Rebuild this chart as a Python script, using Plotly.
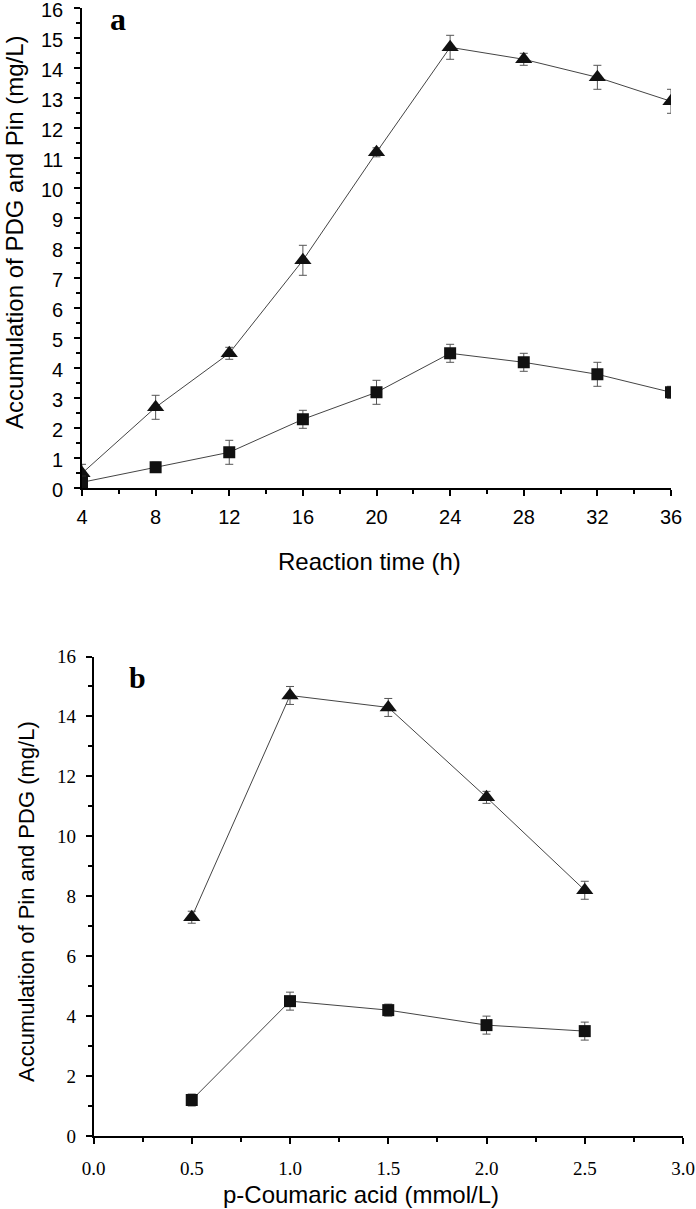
import plotly.graph_objects as go

W, H = 696, 1209

# Panel a data
time_h = [4, 8, 12, 16, 20, 24, 28, 32, 36]
tri_a = [0.5, 2.7, 4.5, 7.6, 11.2, 14.7, 14.3, 13.7, 12.9]
tri_a_err = [0.3, 0.4, 0.2, 0.5, 0.15, 0.4, 0.2, 0.4, 0.4]
sq_a = [0.2, 0.7, 1.2, 2.3, 3.2, 4.5, 4.2, 3.8, 3.2]
sq_a_err = [0.2, 0.17, 0.4, 0.3, 0.4, 0.3, 0.3, 0.4, 0.2]

# Panel b data
pca = [0.5, 1.0, 1.5, 2.0, 2.5]
tri_b = [7.3, 14.7, 14.3, 11.3, 8.2]
tri_b_err = [0.2, 0.3, 0.3, 0.2, 0.3]
sq_b = [1.2, 4.5, 4.2, 3.7, 3.5]
sq_b_err = [0.2, 0.3, 0.2, 0.3, 0.3]

LINE = "#444444"
MK = "#111111"
ERR = "#555555"


def px_x(p):
    return p / W


def px_y(p):
    return 1 - p / H


def series(x, y, e, sym, size, xa, ya):
    return go.Scatter(
        x=x, y=y, mode="lines+markers", xaxis=xa, yaxis=ya,
        line=dict(color=LINE, width=1),
        marker=dict(symbol=sym, size=size, color=MK),
        error_y=dict(type="data", array=e, visible=True, color=ERR,
                     thickness=1, width=4),
        showlegend=False, cliponaxis=True,
    )


fig = go.Figure()
fig.add_trace(series(time_h, tri_a, tri_a_err, "triangle-up", 15, "x", "y"))
fig.add_trace(series(time_h, sq_a, sq_a_err, "square", 12, "x", "y"))
fig.add_trace(series(pca, tri_b, tri_b_err, "triangle-up", 15, "x2", "y2"))
fig.add_trace(series(pca, sq_b, sq_b_err, "square", 12, "x2", "y2"))

sans = "Liberation Sans, Arial, sans-serif"
serif = "Liberation Serif, Times New Roman, serif"

common = dict(showline=True, linecolor="black", linewidth=1.6, ticks="outside",
              tickcolor="black", tickwidth=1.5, ticklen=6, showgrid=False,
              zeroline=False, mirror=False, automargin=False,
              ticklabeloverflow="allow")

fig.update_layout(
    width=W, height=H, margin=dict(l=0, r=0, t=0, b=0, autoexpand=False),
    paper_bgcolor="white", plot_bgcolor="white",
    xaxis=dict(domain=[px_x(82), px_x(671)], range=[4, 36], dtick=4, tick0=4,
               anchor="y", tickfont=dict(family=sans, size=20, color="black"),
               minor=dict(ticks="outside", ticklen=4, dtick=2, tick0=4,
                          tickcolor="black", tickwidth=1.5),
               ticklabelstandoff=4, **common),
    yaxis=dict(domain=[px_y(488.3), px_y(8.3)], range=[0, 16], dtick=1,
               anchor="x", tickfont=dict(family=sans, size=20, color="black"),
               minor=dict(ticks="outside", ticklen=4, dtick=0.5,
                          tickcolor="black", tickwidth=1.5),
               ticklabelstandoff=7, ticklabelshift=2, **common),
    xaxis2=dict(domain=[px_x(93.5), px_x(683)], range=[0, 3], dtick=0.5, tick0=0,
                anchor="y2", tickformat=".1f",
                tickfont=dict(family=serif, size=19, color="black"),
                minor=dict(ticks="outside", ticklen=4, dtick=0.25, tick0=0,
                           tickcolor="black", tickwidth=1.5),
                ticklabelstandoff=8, **common),
    yaxis2=dict(domain=[px_y(1136), px_y(656.5)], range=[0, 16], dtick=2,
                anchor="x2", tickfont=dict(family=serif, size=19, color="black"),
                minor=dict(ticks="outside", ticklen=4, dtick=1,
                           tickcolor="black", tickwidth=1.5),
                ticklabelstandoff=6, **common),
)


def ann(text, px, py, size, family, angle=0, bold=False):
    fig.add_annotation(
        text=f"<b>{text}</b>" if bold else text,
        x=px_x(px), y=px_y(py), xref="paper", yref="paper",
        showarrow=False, textangle=angle, xanchor="center", yanchor="middle",
        font=dict(family=family, size=size, color="black"),
    )


ann("Reaction time (h)", 369, 562, 24, sans)
ann("Accumulation of PDG and Pin (mg/L)", 14, 232, 24, sans, angle=-90)
ann("p-Coumaric acid (mmol/L)", 361, 1194, 24, sans)
ann("Accumulation of Pin and PDG (mg/L)", 26, 902, 22, sans, angle=-90)
ann("a", 118, 19, 32, serif, bold=True)
ann("b", 137, 677, 30, serif, bold=True)

fig.write_html(
    "out.html",
    config={"displayModeBar": False},
    post_script="document.body.style.margin='0px';"
                "document.body.style.overflow='hidden';",
)
